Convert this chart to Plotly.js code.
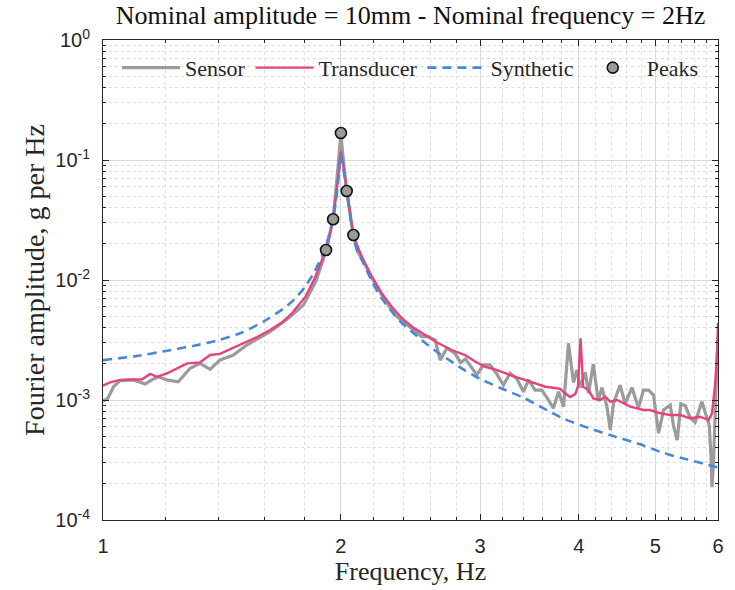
<!DOCTYPE html>
<html>
<head>
<meta charset="utf-8">
<script src="https://cdn.plot.ly/plotly-3.0.1.min.js"></script>
<style>html,body{margin:0;padding:0;background:#fff;}#chart{width:735px;height:590px;}</style>
</head>
<body>
<div id="chart"></div>
<script>
// Sensor (gray)
const sensorFreq = [1.0,1.014,1.031,1.051,1.092,1.131,1.153,1.175,1.204,1.245,1.289,1.327,1.366,1.406,1.462,1.52,1.566,1.627,1.725,1.793,1.86,1.915,1.935,1.955,1.975,1.99,2.0,2.01,2.034,2.055,2.074,2.1,2.126,2.189,2.253,2.341,2.4,2.46,2.531,2.58,2.632,2.671,2.723,2.789,2.835,2.875,2.972,3.03,3.089,3.149,3.211,3.274,3.339,3.404,3.454,3.522,3.592,3.662,3.714,3.771,3.826,3.881,3.92,3.939,3.977,4.017,4.076,4.115,4.172,4.233,4.279,4.341,4.384,4.426,4.512,4.578,4.669,4.759,4.829,4.9,4.972,5.046,5.121,5.22,5.271,5.328,5.384,5.454,5.532,5.613,5.725,5.808,5.849,5.878,5.896,5.923,5.952,5.977,6.0];
const sensorAmp = [9.8e-4,1.03e-3,1.29e-3,1.45e-3,1.47e-3,1.36e-3,1.47e-3,1.56e-3,1.47e-3,1.42e-3,1.84e-3,2.02e-3,1.80e-3,2.15e-3,2.37e-3,2.87e-3,3.21e-3,3.71e-3,4.94e-3,6.19e-3,9.8e-3,0.0175,0.024,0.032,0.065,0.115,0.165,0.115,0.055,0.035,0.0235,0.0172,0.0152,0.0104,7.5e-3,5.11e-3,4.49e-3,3.96e-3,3.37e-3,3.37e-3,3.16e-3,2.15e-3,2.70e-3,2.45e-3,2.05e-3,2.2e-3,1.62e-3,1.96e-3,1.96e-3,1.65e-3,1.33e-3,1.67e-3,1.50e-3,1.17e-3,1.47e-3,1.21e-3,1.21e-3,1.0e-3,8.53e-4,1.17e-3,8.8e-4,2.97e-3,1.78e-3,1.40e-3,1.78e-3,1.27e-3,1.70e-3,1.14e-3,2.0e-3,9.8e-4,1.27e-3,8.8e-4,5.62e-4,9.45e-4,1.33e-3,9.3e-4,1.27e-3,8.58e-4,1.21e-3,1.21e-3,1.10e-3,5.3e-4,8.25e-4,9.08e-4,6.07e-4,4.64e-4,9.3e-4,8.95e-4,7.15e-4,6.52e-4,9.68e-4,7.36e-4,6.19e-4,3.44e-4,1.88e-4,3.16e-4,1.0e-3,1.78e-3,3.4e-3];

// Transducer (pink)
const transFreq = [1.0,1.021,1.051,1.092,1.121,1.147,1.17,1.205,1.24,1.278,1.327,1.366,1.406,1.448,1.5,1.567,1.627,1.69,1.735,1.805,1.856,1.893,1.921,1.94,1.955,1.975,1.99,2.0,2.01,2.035,2.055,2.075,2.126,2.189,2.253,2.319,2.389,2.46,2.556,2.657,2.762,2.872,2.957,3.045,3.134,3.227,3.323,3.421,3.522,3.627,3.733,3.789,3.823,3.9,3.958,3.99,4.02,4.05,4.115,4.172,4.257,4.32,4.383,4.471,4.556,4.646,4.739,4.829,4.924,5.071,5.22,5.375,5.532,5.696,5.837,5.896,5.952,5.987,6.0];
const transAmp = [1.32e-3,1.40e-3,1.47e-3,1.49e-3,1.49e-3,1.65e-3,1.56e-3,1.67e-3,1.84e-3,2.02e-3,2.06e-3,2.37e-3,2.42e-3,2.65e-3,2.97e-3,3.35e-3,3.83e-3,4.49e-3,5.31e-3,7.3e-3,0.0106,0.0147,0.0188,0.025,0.033,0.055,0.09,0.118,0.098,0.055,0.035,0.023,0.0156,0.01066,7.74e-3,5.99e-3,4.80e-3,4.08e-3,3.48e-3,2.97e-3,2.61e-3,2.37e-3,2.09e-3,1.89e-3,1.80e-3,1.67e-3,1.56e-3,1.47e-3,1.38e-3,1.29e-3,1.26e-3,1.24e-3,1.17e-3,1.06e-3,1.12e-3,1.3e-3,3.27e-3,1.29e-3,1.21e-3,1.03e-3,1.0e-3,1.065e-3,9.68e-4,1.0e-3,9.39e-4,8.8e-4,8.53e-4,8.25e-4,8.25e-4,7.75e-4,7.5e-4,7.5e-4,7.04e-4,7.26e-4,6.81e-4,7.75e-4,1.38e-3,2.61e-3,4.38e-3];

// Synthetic (blue dashed)
const synthFreq = [1.0,1.1,1.2,1.3,1.4,1.5,1.6,1.7,1.75,1.8,1.85,1.9,1.93,1.955,1.975,1.99,2.0,2.01,2.035,2.055,2.075,2.1,2.13,2.19,2.25,2.32,2.39,2.46,2.56,2.66,2.76,2.84,3.0,3.2,3.4,3.6,3.84,4.13,4.38,4.77,5.07,5.38,5.7,6.0];
const synthAmp = [2.15e-3,2.32e-3,2.56e-3,2.82e-3,3.15e-3,3.65e-3,4.55e-3,5.9e-3,7.0e-3,8.7e-3,0.0116,0.0168,0.023,0.032,0.05,0.08,0.112,0.092,0.054,0.034,0.0225,0.0172,0.0143,9.7e-3,7.1e-3,5.45e-3,4.36e-3,3.7e-3,2.97e-3,2.45e-3,2.09e-3,1.84e-3,1.5e-3,1.24e-3,1.05e-3,8.6e-4,6.9e-4,5.8e-4,5.1e-4,4.3e-4,3.7e-4,3.3e-4,3.0e-4,2.74e-4];

// Peaks
const peakFreq = [1.915,1.955,2.0,2.034,2.074];
const peakAmp = [0.0178,0.0321,0.168,0.0552,0.0237];

// Axis ticks
const xTickVals = [1,2,3,4,5,6];
const xTickText = ['1','2','3','4','5','6'];
const xMinorVals = [1.2,1.4,1.6,1.8,2.2,2.4,2.6,2.8,3.2,3.4,3.6,3.8,4.2,4.4,4.6,4.8,5.2,5.4,5.6,5.8];
const yTickVals = [1e-4,1e-3,1e-2,1e-1,1];
const yTickText = ['10<sup>-4</sup>','10<sup>-3</sup>','10<sup>-2</sup>','10<sup>-1</sup>','10<sup>0</sup>'];
const yMinorVals = [];
[1e-4,1e-3,1e-2,1e-1].forEach(d => { for (let k = 2; k <= 9; k++) yMinorVals.push(+(k*d).toPrecision(3)); });

const serif = '"Liberation Serif", "Times New Roman", serif';
const sans = '"Liberation Sans", Arial, sans-serif';

const traces = [
  {x: sensorFreq, y: sensorAmp, name: 'Sensor', type: 'scatter', mode: 'lines',
   line: {color: '#9b9b9b', width: 3.2}},
  {x: transFreq, y: transAmp, name: 'Transducer', type: 'scatter', mode: 'lines',
   line: {color: '#e6427c', width: 2.4}},
  {x: synthFreq, y: synthAmp, name: 'Synthetic', type: 'scatter', mode: 'lines',
   line: {color: '#4a87d6', width: 2.6, dash: '9px,6px', shape: 'spline', smoothing: 0.6}},
  {x: peakFreq, y: peakAmp, name: 'Peaks', type: 'scatter', mode: 'markers',
   marker: {color: '#9a9a9a', size: 11, line: {color: '#111', width: 1.6}}}
];

const axisCommon = {
  showline: true, linecolor: '#262626', linewidth: 1, mirror: 'allticks',
  ticks: 'inside', ticklen: 6, tickcolor: '#262626', tickwidth: 1,
  showgrid: true, gridcolor: '#d9d9d9', gridwidth: 1,
  zeroline: false,
  tickfont: {family: sans, size: 20, color: '#262626'}
};

const layout = {
  width: 735, height: 590,
  margin: {l: 103, r: 17, t: 40, b: 70},
  paper_bgcolor: '#fff', plot_bgcolor: '#fff',
  showlegend: true,
  title: {text: 'Nominal amplitude = 10mm - Nominal frequency = 2Hz',
          font: {family: serif, size: 26, color: '#111'},
          xref: 'paper', x: 0.5, xanchor: 'center', yref: 'container', y: 0.974, yanchor: 'middle'},
  xaxis: Object.assign({}, axisCommon, {
    type: 'log', range: [0, Math.log10(6)],
    tickmode: 'array', tickvals: xTickVals, ticktext: xTickText,
    ticklabelstandoff: 8,
    minor: {tickmode: 'array', tickvals: xMinorVals, ticks: 'inside', ticklen: 3, tickcolor: '#262626',
            showgrid: true, gridcolor: '#dedede', griddash: 'dot', gridwidth: 1},
    title: {text: 'Frequency, Hz', font: {family: serif, size: 26, color: '#262626'}, standoff: 4}
  }),
  yaxis: Object.assign({}, axisCommon, {
    type: 'log', range: [-4, 0],
    tickmode: 'array', tickvals: yTickVals, ticktext: yTickText,
    ticklabelstandoff: 8,
    minor: {tickmode: 'array', tickvals: yMinorVals, ticks: 'inside', ticklen: 3, tickcolor: '#262626',
            showgrid: true, gridcolor: '#dedede', griddash: 'dot', gridwidth: 1},
    title: {text: 'Fourier amplitude, g per Hz', font: {family: serif, size: 28, color: '#262626'}, standoff: 2}
  }),
  legend: {orientation: 'h', x: 0.5, xanchor: 'center', y: 0.942, yanchor: 'middle',
           bgcolor: 'rgba(255,255,255,0)', borderwidth: 0,
           font: {family: serif, size: 22, color: '#262626'},
           itemwidth: 58, traceorder: 'normal'}
};

Plotly.newPlot('chart', traces, layout, {displayModeBar: false, staticPlot: true});
</script>
</body>
</html>
